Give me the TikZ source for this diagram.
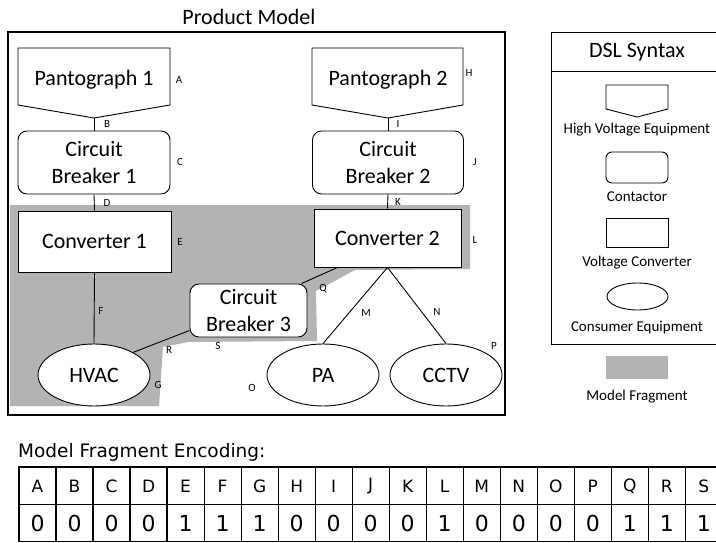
\documentclass[tikz,border=0pt]{standalone}
\usepackage{fontspec}
\setmainfont{Carlito}
\newfontfamily\tabfont{DejaVu Sans}
\usetikzlibrary{shapes.geometric}
\definecolor{frag}{RGB}{179,179,179}
\begin{document}
\begin{tikzpicture}[x=1pt,y=-1pt,
  lw/.style={line width=0.9pt},
  big/.style={font=\fontsize{22}{26.4}\selectfont},
  box/.style={draw,lw,fill=white,inner sep=0pt,big,align=center},
  rbox/.style={box,rounded corners=9pt},
  ebox/.style={box,ellipse},
  lab/.style={font=\fontsize{11}{13}\selectfont,inner sep=0pt},
  leg/.style={font=\fontsize{15}{18}\selectfont,inner sep=0pt},
  conn/.style={lw},
  hdr/.style={font=\tabfont\fontsize{17}{20}\selectfont,inner sep=0pt},
  dig/.style={font=\tabfont\fontsize{22}{26}\selectfont,inner sep=0pt}
]
\useasboundingbox (0,0) rectangle (716,543);
\clip (0,0) rectangle (716,543);

% model fragment
\fill[frag] (10,205) -- (470,205) -- (470,269) -- (355,270) -- (316,291) -- (317,341)
  -- (188,342) -- (163,347) -- (159,406) -- (10,406) -- cycle;

% outer product model box
\draw[line width=1.5pt] (8,32) rectangle (505,415);
\node[big,inner sep=0pt] (title) at (249,17) {Product Model};

% pantographs
\draw[lw,fill=white] (18,48) -- (170,48) -- (170,105) -- (94,118) -- (18,105) -- cycle;
\coordinate (p1tip) at (94,118);
\node[big,inner sep=0pt] (p1) at (94,80) {Pantograph 1};
\draw[lw,fill=white] (312,48) -- (463,48) -- (463,105) -- (388,118) -- (312,105) -- cycle;
\coordinate (p2tip) at (388,118);
\node[big,inner sep=0pt] (p2) at (388,80) {Pantograph 2};

% circuit breakers
\node[rbox,minimum width=152pt,minimum height=63pt] (cb1) at (94,162.5) {Circuit\\Breaker 1};
\node[rbox,minimum width=151pt,minimum height=63pt] (cb2) at (388,162.5) {Circuit\\Breaker 2};
\node[rbox,minimum width=117pt,minimum height=53pt] (cb3) at (248.5,310.5) {Circuit\\Breaker 3};

% converters
\node[box,minimum width=153pt,minimum height=61pt] (conv1) at (94.5,241.5) {Converter 1};
\node[box,minimum width=147pt,minimum height=58pt] (conv2) at (387.5,238) {Converter 2};

% consumers
\node[ebox,minimum width=112pt,minimum height=62pt] (hvac) at (94,375) {HVAC};
\node[ebox,minimum width=112pt,minimum height=62pt] (pa) at (323,375) {PA};
\node[ebox,minimum width=112pt,minimum height=62pt] (cctv) at (446,375) {CCTV};

% connectors
\draw[conn] (p1tip) -- (cb1.north);
\draw[conn] (cb1.south) -- (conv1.north);
\draw[conn] (conv1.south) -- (hvac.north);
\draw[conn] (p2tip) -- (cb2.north);
\draw[conn] (cb2.south) -- (conv2.north);
\draw[conn] (conv2.south) -- (pa.north);
\draw[conn] (conv2.south) -- (cctv.north);
\draw[conn] ([xshift=24pt]conv2.south west) -- ([xshift=-6pt]cb3.north east);
\draw[conn] ([yshift=7pt]cb3.south west) -- (hvac.30);

% element labels
\node[lab] (lA) at (179,80) {A};
\node[lab] (lB) at (107,124) {B};
\node[lab] (lC) at (180,162) {C};
\node[lab] (lD) at (107,203) {D};
\node[lab] (lE) at (180,242) {E};
\node[lab] (lF) at (101,311) {F};
\node[lab] (lG) at (158,385) {G};
\node[lab] (lH) at (469,73) {H};
\node[lab] (lI) at (398,124) {I};
\node[lab] (lJ) at (475,162) {J};
\node[lab] (lK) at (398,202) {K};
\node[lab] (lL) at (475,240) {L};
\node[lab] (lM) at (366,313) {M};
\node[lab] (lN) at (437,312) {N};
\node[lab] (lO) at (252,388) {O};
\node[lab] (lP) at (494,346) {P};
\node[lab] (lQ) at (323,289) {Q};
\node[lab] (lR) at (169,350) {R};
\node[lab] (lS) at (218,346) {S};

% legend
\draw[lw] (551,32) rectangle (730,344);
\draw[lw] (551,71) -- (730,71);
\node[big,inner sep=0pt] (dsl) at (637,52) {DSL Syntax};
\draw[lw] (606,85) -- (668,85) -- (668,109) -- (637,117) -- (606,109) -- cycle;
\node[leg] (l1) at (637,130) {High Voltage Equipment};
\draw[lw,rounded corners=6pt] (606,152) rectangle (668,183);
\node[leg] (l2) at (637,197) {Contactor};
\draw[lw] (606,218) rectangle (668,247);
\node[leg] (l3) at (637,263) {Voltage Converter};
\node[draw,lw,ellipse,minimum width=61pt,minimum height=27pt,inner sep=0pt] (l4s) at (637.5,296.5) {};
\node[leg] (l4) at (637,328) {Consumer Equipment};
\fill[frag] (606,356) rectangle (668,379);
\node[leg] (l5) at (637,397) {Model Fragment};

% encoding table
\node[font=\tabfont\fontsize{18.5}{22}\selectfont,inner sep=0pt,anchor=west] (enc) at (18,452) {Model Fragment Encoding:};
\foreach \l/\d [count=\i from 0] in {A/0,B/0,C/0,D/0,E/1,F/1,G/1,H/0,I/0,J/0,K/0,L/1,M/0,N/0,O/0,P/0,Q/1,R/1,S/1} {
  \draw[line width=1.2pt] (19+\i*37.02,467) rectangle ++(37.02,37.5);
  \draw[line width=1.2pt] (19+\i*37.02,504.5) rectangle ++(37.02,37);
  \node[hdr] (h\i) at (19+\i*37.02+18.51,486) {\l};
  \node[dig] (v\i) at (19+\i*37.02+18.51,523) {\d};
}
\end{tikzpicture}
\end{document}
